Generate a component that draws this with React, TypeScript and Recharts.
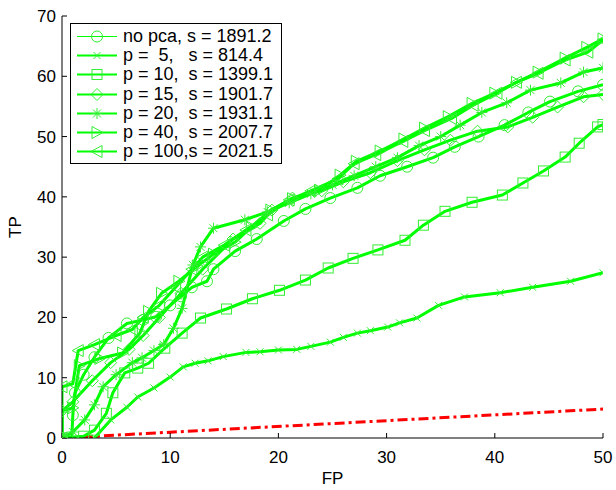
import React from "react";
import {
  LineChart, Line, XAxis, YAxis, Legend,
} from "recharts";

// ─── Data ─────────────────────────────────────────────────────────────────────

const xTicks = [0, 10, 20, 30, 40, 50];
const yTicks = [0, 10, 20, 30, 40, 50, 60, 70];

const noPcaFP = [0, 0.9, 1, 1.2, 2, 3, 4.3, 6, 7.5, 8.7, 10, 11, 12, 13.4, 14, 16, 18, 20.5, 22.5, 24.8, 27.3, 29.4, 31.9, 34.3, 36.3, 38.5, 40.9, 43.1, 45.1, 47.7, 50];
const noPcaTP = [0, 0, 3.8, 7.5, 10.5, 13.4, 16.6, 19, 19.6, 20.1, 22, 23.5, 25, 26, 28, 31, 33, 36, 38, 39.8, 41.5, 43.5, 45, 46.5, 48.3, 50, 51.9, 54, 55.8, 57.5, 58.6];

const p5FP = [3, 4.5, 6, 7, 8.5, 10, 11.2, 12.3, 13.5, 14.9, 17, 18.3, 20, 21.7, 23, 24.8, 26, 27.3, 28.5, 30.1, 31.2, 32.8, 34.8, 37.2, 40.5, 43.5, 47, 50];
const p5TP = [0, 3, 5.1, 6.8, 8.3, 10.1, 11.8, 12.4, 12.8, 13.5, 14.2, 14.3, 14.6, 14.7, 15.2, 15.9, 16.7, 17.4, 17.8, 18.4, 19.1, 19.9, 22, 23.4, 24.1, 25, 26, 27.4];

const p10FP = [0, 2, 3, 4.1, 4.7, 5.8, 7, 8, 9.5, 11.1, 12.8, 15.2, 17.6, 20.1, 22.5, 24.6, 26.9, 29.2, 31.7, 33.4, 35.4, 37.9, 40.7, 42.6, 44.5, 46.5, 47.8, 49.5, 50];
const p10TP = [0, 0.3, 1.3, 4.1, 7.5, 10.8, 11.6, 12.4, 14.9, 17.4, 19.9, 21.4, 23.1, 24.5, 26.2, 28.2, 29.8, 31.2, 32.8, 35.3, 37.6, 39.1, 40.3, 42.3, 44.3, 46.6, 48.9, 51.6, 52];

const p15FP = [0, 0, 1, 2.8, 4.5, 6.2, 7.5, 9, 11, 13, 15.8, 18.3, 19.4, 21.3, 24, 26, 28.5, 31, 33.5, 35.9, 38.4, 41.2, 43.5, 45.8, 48.2, 50];
const p15TP = [0, 4.5, 6, 9.5, 12.5, 14.7, 17, 20, 24, 28, 33, 35.6, 37.8, 39.8, 41, 42.5, 44, 46, 47.8, 49.4, 50.9, 51.6, 53.2, 54.9, 56.6, 57];

const p20FP = [0, 1, 2.1, 3, 3.8, 5, 6.5, 7.4, 8.5, 9.4, 10.3, 11.1, 12.1, 12.8, 14, 16.9, 19, 21, 23, 25, 27, 29, 31, 33, 35, 36.8, 38.8, 41.1, 43.3, 46.1, 48.2, 50];
const p20TP = [0, 1, 3, 5.5, 8.5, 10.5, 12.5, 13.3, 14.5, 15.5, 18.2, 21.5, 28.7, 31.7, 34.8, 36.2, 37.5, 39, 40.5, 42, 43.5, 45, 46.5, 48.5, 50, 51.9, 54, 55.6, 57.7, 58.9, 60.7, 61.4];

const p40FP = [0, 0, 1, 1.6, 3.5, 5.6, 7.2, 8, 9.2, 10.8, 12.5, 14, 16, 17.5, 19.3, 21.3, 23.8, 25.7, 27.2, 29.4, 31.6, 33.5, 35.7, 37.9, 40, 42, 44, 46.5, 48.5, 50];
const p40TP = [0, 4.5, 5, 12, 13.2, 14.1, 17.4, 21, 24, 26, 28.5, 30.5, 32.5, 35, 37.8, 39.7, 41.1, 43.6, 45.9, 47.6, 49.6, 51.4, 53.3, 55.5, 57.2, 59, 60.7, 63, 64.8, 66.2];

const p100FP = [0, 0, 1, 1.5, 3, 5, 6.5, 7.5, 9, 10.5, 12, 13, 15, 17, 19, 21, 23, 25.5, 27, 29, 31.5, 33.5, 36, 38, 40.2, 42, 44, 46.5, 48.6, 50];
const p100TP = [0, 8.5, 9, 14.5, 15.5, 17, 18, 20, 22, 25, 28, 30, 32, 34.5, 37, 39.5, 41, 43, 45.5, 47, 49.2, 51, 53, 55.2, 57.2, 59, 60.5, 62.7, 64, 66];

const chanceFP = [0, 50];
const chanceTP = [0, 4.8];

const seriesNames = [
  "no pca, s = 1891.2",
  "p =  5,   s = 814.4",
  "p = 10,  s = 1399.1",
  "p = 15,  s = 1901.7",
  "p = 20,  s = 1931.1",
  "p = 40,  s = 2007.7",
  "p = 100,s = 2021.5",
];
const seriesMarkers = ["circle", "x", "square", "diamond", "star", "triRight", "triLeft"];
const seriesFP = [noPcaFP, p5FP, p10FP, p15FP, p20FP, p40FP, p100FP];
const seriesTP = [noPcaTP, p5TP, p10TP, p15TP, p20TP, p40TP, p100TP];

// ─── Helpers ──────────────────────────────────────────────────────────────────

const GREEN = "#00ff00";
const FONT = "'Liberation Sans', Arial, Helvetica, sans-serif";

function toPoints(fp: number[], tp: number[]) {
  return fp.map((x, i) => ({ fp: x, tp: tp[i] }));
}

function Marker({ shape, cx, cy }: { shape: string; cx: number; cy: number }) {
  const p = { stroke: "#33ee33", strokeWidth: 1, fill: "none" };
  switch (shape) {
    case "circle":
      return <circle cx={cx} cy={cy} r={5.5} {...p} />;
    case "x":
      return (
        <g {...p}>
          <line x1={cx - 3.5} y1={cy - 3.5} x2={cx + 3.5} y2={cy + 3.5} />
          <line x1={cx - 3.5} y1={cy + 3.5} x2={cx + 3.5} y2={cy - 3.5} />
        </g>
      );
    case "square":
      return <rect x={cx - 5} y={cy - 5} width={10} height={10} {...p} />;
    case "diamond":
      return <polygon points={`${cx},${cy - 6} ${cx + 6},${cy} ${cx},${cy + 6} ${cx - 6},${cy}`} {...p} />;
    case "star":
      return (
        <g {...p}>
          <line x1={cx} y1={cy - 5.5} x2={cx} y2={cy + 5.5} />
          <line x1={cx - 5.5} y1={cy} x2={cx + 5.5} y2={cy} />
          <line x1={cx - 4} y1={cy - 4} x2={cx + 4} y2={cy + 4} />
          <line x1={cx - 4} y1={cy + 4} x2={cx + 4} y2={cy - 4} />
        </g>
      );
    case "triRight":
      return <polygon points={`${cx - 5},${cy - 6} ${cx + 6},${cy} ${cx - 5},${cy + 6}`} {...p} />;
    case "triLeft":
      return <polygon points={`${cx + 5},${cy - 6} ${cx - 6},${cy} ${cx + 5},${cy + 6}`} {...p} />;
    default:
      return null;
  }
}

function renderLegend() {
  return (
    <div
      style={{
        border: "1px solid #000",
        background: "#fff",
        padding: "3px 8px 2px 6px",
        fontFamily: FONT,
        fontSize: 18,
        color: "#000",
      }}
    >
      {seriesNames.map((name, i) => (
        <div key={name} style={{ display: "flex", alignItems: "center", height: 19.2, whiteSpace: "pre" }}>
          <svg width={46} height={19} style={{ flex: "none" }}>
            <line x1={0} y1={9.5} x2={40} y2={9.5} stroke={GREEN} strokeWidth={i === 0 ? 1.2 : 2} />
            <Marker shape={seriesMarkers[i]} cx={20} cy={9.5} />
          </svg>
          <span style={{ lineHeight: "19px" }}>{name}</span>
        </div>
      ))}
    </div>
  );
}

// ─── Component ────────────────────────────────────────────────────────────────

export default function App() {
  const tickStyle = { fill: "#000", fontSize: 17, fontFamily: FONT };

  return (
    <div style={{ position: "absolute", left: 0, top: 0, background: "#fff" }}>
      <LineChart width={616} height={490} margin={{ top: 16, right: 13, left: 0, bottom: 0 }}>
        <XAxis
          xAxisId="b"
          type="number"
          dataKey="fp"
          domain={[0, 50]}
          ticks={xTicks}
          allowDataOverflow
          height={52}
          stroke="#000"
          tickSize={-5}
          tickMargin={18}
          tick={tickStyle}
          label={{ value: "FP", position: "insideBottom", offset: 6, fill: "#000", fontSize: 17, fontFamily: FONT }}
        />
        <XAxis
          xAxisId="t"
          orientation="top"
          type="number"
          dataKey="fp"
          domain={[0, 50]}
          ticks={xTicks}
          allowDataOverflow
          height={0}
          stroke="#000"
          tickSize={-5}
          tickFormatter={() => ""}
        />
        <YAxis
          yAxisId="l"
          type="number"
          dataKey="tp"
          domain={[0, 70]}
          ticks={yTicks}
          allowDataOverflow
          width={62}
          stroke="#000"
          tickSize={-5}
          tickMargin={11}
          tick={tickStyle}
          label={(props: any) => {
            const vb = props.viewBox || {};
            const cx = (vb.x ?? 0) + 15;
            const cy = (vb.y ?? 0) + (vb.height ?? 0) / 2;
            return (
              <text
                x={cx}
                y={cy}
                transform={`rotate(-90 ${cx} ${cy})`}
                textAnchor="middle"
                dominantBaseline="central"
                fill="#000"
                fontSize={17}
                fontFamily={FONT}
              >
                TP
              </text>
            );
          }}
        />
        <YAxis
          yAxisId="r"
          orientation="right"
          type="number"
          dataKey="tp"
          domain={[0, 70]}
          ticks={yTicks}
          allowDataOverflow
          width={0}
          stroke="#000"
          tickSize={-5}
          tickFormatter={() => ""}
        />
        <Legend
          content={renderLegend}
          layout="vertical"
          align="center"
          verticalAlign="middle"
          wrapperStyle={{ left: 70, top: 23, width: "auto", height: "auto" }}
        />

        <Line
          xAxisId="b"
          yAxisId="l"
          data={toPoints(chanceFP, chanceTP)}
          dataKey="tp"
          stroke="#ff0000"
          strokeWidth={3}
          strokeDasharray="10 4 3 4"
          dot={false}
          legendType="none"
          isAnimationActive={false}
        />
        {seriesNames.map((name, i) => (
          <Line
            key={name}
            xAxisId="b"
            yAxisId="l"
            name={name}
            data={toPoints(seriesFP[i], seriesTP[i])}
            dataKey="tp"
            type="linear"
            stroke={GREEN}
            strokeWidth={3}
            strokeLinejoin="round"
            dot={(props: any) => (
              <Marker key={`${name}-${props.index}`} shape={seriesMarkers[i]} cx={props.cx} cy={props.cy} />
            )}
            activeDot={false}
            isAnimationActive={false}
          />
        ))}
      </LineChart>
    </div>
  );
}
